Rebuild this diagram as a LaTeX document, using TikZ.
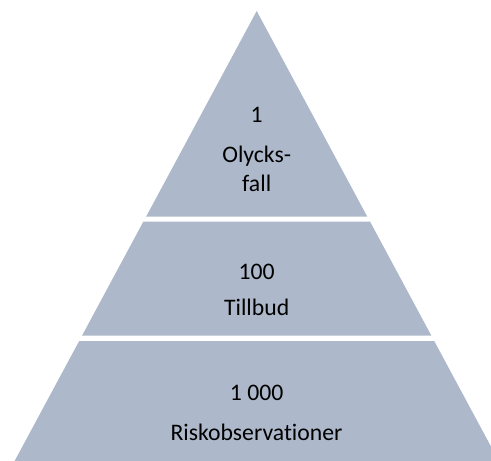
\documentclass[tikz,border=0pt]{standalone}
\usepackage{fontspec}
\setmainfont{Carlito}[RawFeature=-liga]
\definecolor{layerfill}{HTML}{ADB9CA}
\begin{document}
\begin{tikzpicture}[x=1pt, y=-1pt,
    layer/.style={fill=layerfill},
    tier/.style={font=\fontsize{23.7}{28}\selectfont, inner sep=0pt, anchor=base}]

    % Fix the page to the size of the reference
    \useasboundingbox (0,0) rectangle (491,461);
    \clip (0,0) rectangle (491,461);

    % Top of the pyramid
    \fill[layer] (256.7,11) -- (367.3,216.7) -- (146.1,216.7) -- cycle;

    % Middle band
    \fill[layer] (143.3,221.7) -- (370.1,221.7) -- (431.4,335.7) -- (82.0,335.7) -- cycle;

    % Bottom band (runs past the right edge)
    \fill[layer] (79.2,341) -- (434.2,341) -- (498.8,461) -- (14.6,461) -- cycle;

    % Labels
    \node[tier] (top-num)  at (256.7,122) {1};
    \node[tier] (top-name) at (256.7,162.5) {Olycks-};
    \node[tier] (top-rest) at (256.7,191) {fall};

    \node[tier] (mid-num)  at (256.7,279) {100};
    \node[tier] (mid-name) at (256.7,315.7) {Tillbud};

    \node[tier] (low-num)  at (256.7,400) {1 000};
    \node[tier] (low-name) at (256.5,440) {Riskobservationer};

\end{tikzpicture}
\end{document}
